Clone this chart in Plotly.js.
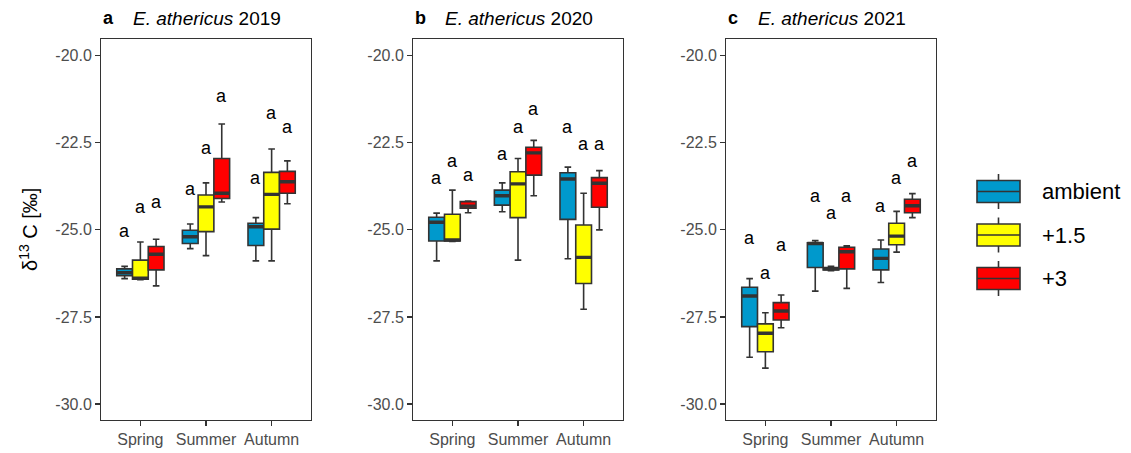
<!DOCTYPE html>
<html>
<head>
<meta charset="utf-8">
<script src="https://cdn.plot.ly/plotly-3.0.1.min.js"></script>
<style>
  html, body { margin: 0; padding: 0; background: #ffffff; }
  #chart { width: 1131px; height: 453px; }
</style>
</head>
<body>
<div id="chart"></div>
<script>
// Seasons, treatments and panels
const seasons = ["Spring", "Summer", "Autumn"];
const treatments = ["ambient", "+1.5", "+3"];
const years = [2019, 2020, 2021];
const panelTags = ["a", "b", "c"];
const treatmentColors = ["#0099CC", "#FFFF00", "#FF0000"];

// Box summaries per season: [lower whisker, Q1, median, Q3, upper whisker]
const ambient2019 = [[-26.40, -26.32, -26.23, -26.12, -26.05], [-25.54, -25.39, -25.20, -25.01, -24.83], [-25.89, -25.45, -24.91, -24.81, -24.65]];
const warm15_2019 = [[-26.43, -26.42, -26.39, -25.87, -25.35], [-25.74, -25.05, -24.34, -24.00, -23.65], [-25.89, -24.98, -23.98, -23.35, -22.68]];
const warm3_2019  = [[-26.61, -26.15, -25.70, -25.48, -25.27], [-24.20, -24.10, -23.95, -22.95, -21.96], [-24.25, -23.95, -23.62, -23.32, -23.02]];

const ambient2020 = [[-25.89, -25.32, -24.78, -24.64, -24.52], [-24.48, -24.29, -24.02, -23.86, -23.65], [-25.83, -24.70, -23.54, -23.36, -23.20]];
const warm15_2020 = [[-25.33, -25.32, -25.29, -24.55, -23.86], [-25.87, -24.65, -23.68, -23.33, -22.95], [-27.28, -26.54, -25.79, -24.86, -23.95]];
const warm3_2020  = [[-24.51, -24.38, -24.32, -24.19, -24.17], [-24.02, -23.43, -22.79, -22.63, -22.43], [-25.00, -24.35, -23.66, -23.50, -23.30]];

const ambient2021 = [[-28.66, -27.78, -26.90, -26.65, -26.40], [-26.76, -26.08, -25.39, -25.37, -25.31], [-26.51, -26.15, -25.82, -25.55, -25.29]];
const warm15_2021 = [[-28.97, -28.50, -27.97, -27.70, -27.38], [-26.17, -26.15, -26.12, -26.08, -26.05], [-25.64, -25.43, -25.18, -24.81, -24.47]];
const warm3_2021  = [[-27.81, -27.59, -27.33, -27.09, -26.87], [-26.68, -26.12, -25.63, -25.50, -25.46], [-24.65, -24.51, -24.31, -24.12, -23.96]];

// Significance letters and their heights, per treatment (Spring, Summer, Autumn)
const letters2019 = [["a", "a", "a"], ["a", "a", "a"], ["a", "a", "a"]];
const letterY2019 = [[-25.05, -23.86, -23.55], [-24.36, -22.68, -21.68], [-24.24, -21.18, -22.08]];
const letters2020 = [["a", "a", "a"], ["a", "a", "a"], ["a", "a", "a"]];
const letterY2020 = [[-23.55, -22.85, -22.07], [-23.04, -22.07, -22.56], [-23.45, -21.56, -22.56]];
const letters2021 = [["a", "a", "a"], ["a", "a", "a"], ["a", "a", "a"]];
const letterY2021 = [[-25.26, -24.05, -24.35], [-26.27, -24.55, -23.55], [-25.45, -24.05, -23.04]];

// Y axis ticks
const yTickVals = [-30, -27.5, -25, -22.5, -20];
const yTickText = ["-30.0", "-27.5", "-25.0", "-22.5", "-20.0"];

// ---------------------------------------------------------------------------
const panelStats = [
  [ambient2019, warm15_2019, warm3_2019],
  [ambient2020, warm15_2020, warm3_2020],
  [ambient2021, warm15_2021, warm3_2021]
];
const panelLetters = [letters2019, letters2020, letters2021];
const panelLetterY = [letterY2019, letterY2020, letterY2021];

const W = 1131, H = 453;
const MT = 39, MB = 33;
const plotH = H - MT - MB;
const panelLeftPx = [101, 413, 726];
const panelWidthPx = 210;
const BOXGAP = 0.28;
const slot = (1 - BOXGAP) / treatments.length;

const FONT = "Liberation Sans, Arial, sans-serif";
const INK = "#333333";

const px2x = px => px / W;
const px2y = py => (H - MB - py) / plotH;

const traces = [];
const annotations = [];
const shapes = [];
const layout = {
  width: W, height: H,
  margin: { l: 0, r: 0, t: MT, b: MB, pad: 0 },
  paper_bgcolor: "#ffffff",
  plot_bgcolor: "#ffffff",
  showlegend: false,
  boxmode: "group",
  boxgap: BOXGAP,
  boxgroupgap: 0,
  font: { family: FONT, color: "#000000" },
  annotations: annotations,
  shapes: shapes
};

panelStats.forEach((stats, p) => {
  const sfx = p === 0 ? "" : String(p + 1);
  const xa = "x" + sfx, ya = "y" + sfx;

  stats.forEach((rows, t) => {
    const col = k => rows.map(r => r[k]);
    // box with whiskers
    traces.push({
      type: "box",
      x: seasons,
      lowerfence: col(0), q1: col(1), median: col(2), q3: col(3), upperfence: col(4),
      name: treatments[t],
      offsetgroup: "t" + t,
      alignmentgroup: "p" + p,
      xaxis: xa, yaxis: ya,
      fillcolor: treatmentColors[t],
      line: { color: INK, width: 1.6 },
      whiskerwidth: 0.42,
      boxpoints: false,
      hoverinfo: "skip",
      showlegend: false
    });
    // heavier median bar on top of each box
    traces.push({
      type: "box",
      x: seasons,
      lowerfence: col(2), q1: col(2), median: col(2), q3: col(2), upperfence: col(2),
      name: treatments[t] + " median",
      offsetgroup: "t" + t,
      alignmentgroup: "p" + p,
      xaxis: xa, yaxis: ya,
      fillcolor: "rgba(0,0,0,0)",
      line: { color: INK, width: 3.4 },
      whiskerwidth: 0,
      boxpoints: false,
      hoverinfo: "skip",
      showlegend: false
    });

    // letters above the boxes
    seasons.forEach((s, i) => {
      annotations.push({
        xref: xa, yref: ya,
        x: i + (t - 1) * slot,
        y: panelLetterY[p][t][i],
        text: panelLetters[p][t][i],
        showarrow: false,
        xanchor: "center", yanchor: "middle",
        yshift: 1,
        font: { family: FONT, size: 18, color: "#000000" }
      });
    });
  });

  const d0 = px2x(panelLeftPx[p]);
  const d1 = px2x(panelLeftPx[p] + panelWidthPx);

  layout["xaxis" + sfx] = {
    domain: [d0, d1],
    anchor: ya,
    type: "category",
    categoryorder: "array",
    categoryarray: seasons,
    range: [-0.6, 2.6],
    showgrid: false,
    zeroline: false,
    showline: true,
    mirror: true,
    linecolor: INK,
    linewidth: 1,
    ticks: "outside",
    ticklen: 5,
    tickwidth: 1.2,
    tickcolor: INK,
    tickfont: { family: FONT, size: 16, color: "#4D4D4D" },
    fixedrange: true
  };
  layout["yaxis" + sfx] = {
    domain: [0, 1],
    anchor: xa,
    range: [-30.46, -19.52],
    tickvals: yTickVals,
    ticktext: yTickText,
    showgrid: false,
    zeroline: false,
    showline: true,
    mirror: true,
    linecolor: INK,
    linewidth: 1,
    ticks: "outside",
    ticklen: 5,
    tickwidth: 1.2,
    tickcolor: INK,
    tickfont: { family: FONT, size: 16, color: "#4D4D4D" },
    fixedrange: true
  };

  // panel title: tag + species and year
  annotations.push({
    xref: "paper", yref: "paper",
    x: d0, y: px2y(18),
    text: "<b>" + panelTags[p] + "</b>",
    showarrow: false, xanchor: "left", yanchor: "middle",
    font: { family: FONT, size: 18, color: "#000000" }
  });
  annotations.push({
    xref: "paper", yref: "paper",
    x: px2x(panelLeftPx[p] + 30), y: px2y(18),
    text: "<i>E. athericus</i> " + years[p],
    showarrow: false, xanchor: "left", yanchor: "middle",
    font: { family: FONT, size: 19, color: "#000000" }
  });
});

// shared y axis title
annotations.push({
  xref: "paper", yref: "paper",
  x: px2x(29), y: px2y(230),
  text: "δ<sup>13</sup> C [‰]",
  textangle: -90,
  showarrow: false, xanchor: "center", yanchor: "middle",
  font: { family: FONT, size: 20, color: "#000000" }
});

// legend keys: box with median and whiskers, plus label
const keyX0 = 977, keyX1 = 1020, keyHalf = 11, whisk = 6.5;
const keyCenters = [191.5, 235, 278.5];
treatments.forEach((name, t) => {
  const c = keyCenters[t];
  const xm = (keyX0 + keyX1) / 2;
  shapes.push({
    type: "line", xref: "paper", yref: "paper",
    x0: px2x(xm), x1: px2x(xm), y0: px2y(c - keyHalf - whisk), y1: px2y(c + keyHalf + whisk),
    line: { color: INK, width: 1.6 }
  });
  shapes.push({
    type: "rect", xref: "paper", yref: "paper",
    x0: px2x(keyX0), x1: px2x(keyX1), y0: px2y(c - keyHalf), y1: px2y(c + keyHalf),
    fillcolor: treatmentColors[t],
    line: { color: INK, width: 1.6 }
  });
  shapes.push({
    type: "line", xref: "paper", yref: "paper",
    x0: px2x(keyX0), x1: px2x(keyX1), y0: px2y(c), y1: px2y(c),
    line: { color: INK, width: 1.6 }
  });
  annotations.push({
    xref: "paper", yref: "paper",
    x: px2x(1040), y: px2y(c),
    text: name,
    showarrow: false, xanchor: "left", yanchor: "middle",
    font: { family: FONT, size: 22, color: "#000000" }
  });
});

Plotly.newPlot("chart", traces, layout, { staticPlot: true, displayModeBar: false });
</script>
</body>
</html>
